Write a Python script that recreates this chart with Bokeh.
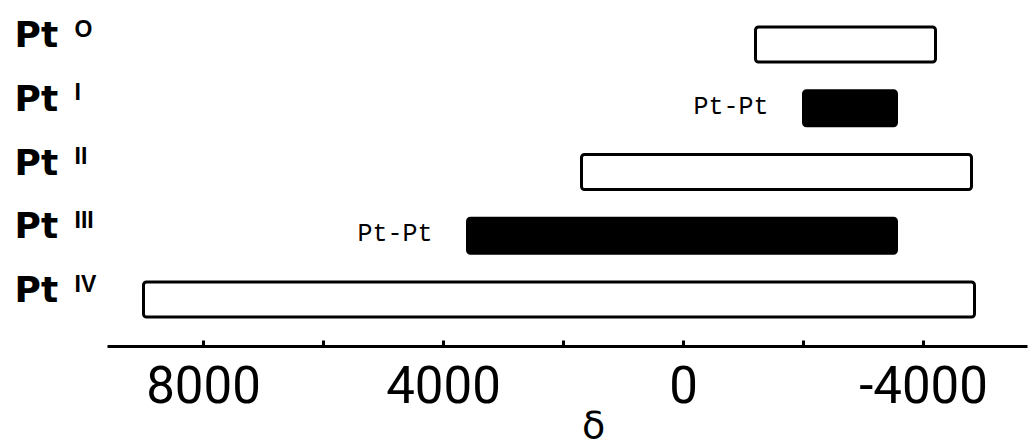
from bokeh.plotting import figure
from bokeh.models import Range1d, LinearAxis, FixedTicker, ColumnDataSource
from bokeh.core.properties import value
from bokeh.embed import file_html
from bokeh.resources import INLINE

# ---- data ----
element = ["Pt", "Pt", "Pt", "Pt", "Pt"]
oxidation = ["O", "I", "II", "III", "IV"]
delta_high = [-1200, -2000, 1700, 3600, 9000]   # left end (high δ)
delta_low = [-4200, -3550, -4800, -3550, -4850]   # right end (low δ)
bond_note = ["", "Pt-Pt", "", "Pt-Pt", ""]
tick_values = [8000, 6000, 4000, 2000, 0, -2000, -4000]
tick_labels = ["8000", "", "4000", "", "0", "", "-4000"]
axis_title = ["δ"]
axis_title_pos = [1500]

W, H = 1030, 448
n = len(element)
rows = [n - 1 - i for i in range(n)]

# pixel <-> data helpers (layout only)
def xd(px):
    return (683 - px) / 0.06

def yd(py):
    return (299 - py) / 63.75

filled = [b != "" for b in bond_note]
src = ColumnDataSource(dict(
    y=rows, left=delta_high, right=delta_low, el=element, ox=oxidation,
    note=bond_note,
    fill=["black" if f else "white" for f in filled],
))

p = figure(width=W, height=H, output_backend="svg", toolbar_location=None,
           x_range=Range1d(xd(0), xd(W)), y_range=Range1d(yd(H), yd(0)),
           x_axis_location=None, y_axis_location=None,
           min_border_left=0, min_border_right=0, min_border_top=0,
           min_border_bottom=0, background_fill_color="white",
           border_fill_color="white")
p.outline_line_color = None
p.xgrid.visible = False
p.ygrid.visible = False

p.hbar(y="y", left="left", right="right", height=0.55, source=src,
       fill_color="fill", line_color="black", line_width=3, border_radius=3)

# bonding notes
p.text(x="left", y="y", text="note", source=src, text_align="right",
       text_baseline="middle", x_offset=-35, y_offset=-1,
       text_font=value("Liberation Mono"), text_font_size="25px", text_color="black")

# row labels
p.text(x=xd(14), y="y", text="el", source=src, text_align="left",
       text_baseline="middle", y_offset=-10,
       text_font=value("DejaVu Sans"), text_font_style="bold",
       text_font_size="36px", text_color="black")
p.text(x=xd(74), y="y", text="ox", source=src, text_align="left",
       text_baseline="top", y_offset=-29,
       text_font=value("Liberation Sans"), text_font_style="bold",
       text_font_size="23px", text_color="black")

ax = LinearAxis(ticker=FixedTicker(ticks=tick_values),
                bounds=(xd(1027), xd(107)), fixed_location=yd(346))
ax.major_label_overrides = {v: l for v, l in zip(tick_values, tick_labels)}
ax.axis_line_width = 3
ax.axis_line_color = "black"
ax.major_tick_line_width = 3
ax.major_tick_line_color = "black"
ax.major_tick_in = 6
ax.major_tick_out = 0
ax.minor_tick_line_color = None
ax.major_label_standoff = 19
ax.major_label_text_font = "Roboto"
ax.major_label_text_font_size = "51px"
ax.major_label_text_color = "black"
p.add_layout(ax, "below")

# axis title (δ), placed where the reference shows it
p.text(x=axis_title_pos, y=[yd(424)] * len(axis_title), text=axis_title,
       text_align="center", text_baseline="middle",
       text_font=value("DejaVu Sans"), text_font_size="38px", text_color="black")

open("out.html", "w").write(file_html(p, INLINE))
